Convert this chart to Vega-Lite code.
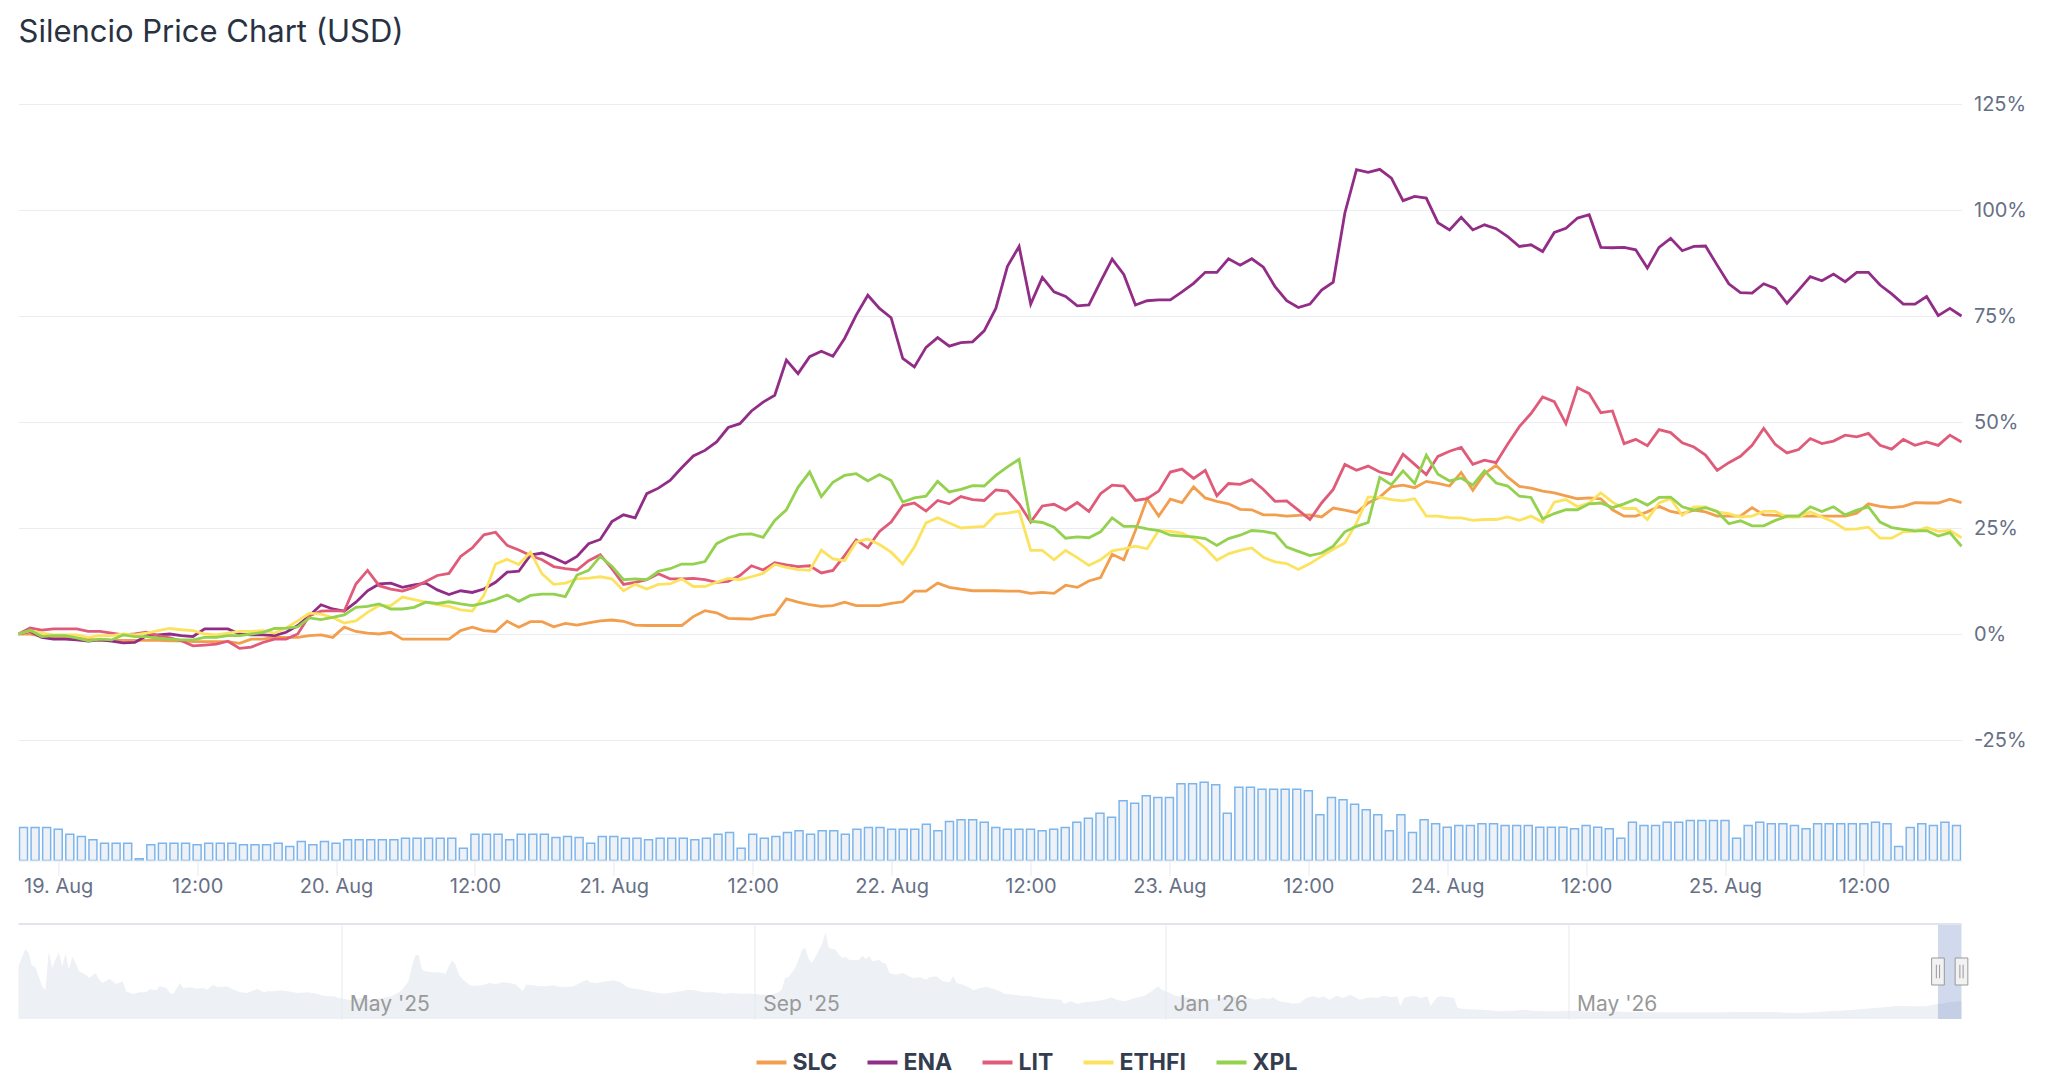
{
  "$schema": "https://vega.github.io/schema/vega-lite/v6.json",
  "background": "white",
  "padding": {"left": 12.5, "top": 16, "right": 0, "bottom": 0},
  "title": {"text": "Silencio Price Chart (USD)", "anchor": "start", "frame": "group", "font": "Inter", "fontSize": 31, "fontWeight": "normal", "color": "#283241", "offset": 45.5},
  "config": {"view": {"stroke": null}, "font": "Inter", "axis": {"labelFont": "Inter"}, "legend": {"labelFont": "Inter"}},
  "datasets": {
    "hourly": [
      {"t":"2026-08-18T21:00","SLC":0,"ENA":0,"LIT":0,"ETHFI":0,"XPL":0,"vol":33},
      {"t":"2026-08-18T22:00","SLC":0,"ENA":0.6,"LIT":1.4,"ETHFI":0.8,"XPL":0.9,"vol":33},
      {"t":"2026-08-18T23:00","SLC":-0.5,"ENA":-0.8,"LIT":0.9,"ETHFI":0.2,"XPL":-0.6,"vol":33},
      {"t":"2026-08-19T00:00","SLC":-1,"ENA":-1.2,"LIT":1.2,"ETHFI":-0.2,"XPL":-0.4,"vol":31.3},
      {"t":"2026-08-19T01:00","SLC":-1,"ENA":-1.2,"LIT":1.2,"ETHFI":-0.2,"XPL":-0.4,"vol":26.3},
      {"t":"2026-08-19T02:00","SLC":-1,"ENA":-1.4,"LIT":1.2,"ETHFI":-0.2,"XPL":-0.9,"vol":24},
      {"t":"2026-08-19T03:00","SLC":-1.2,"ENA":-1.7,"LIT":0.6,"ETHFI":-0.8,"XPL":-1.6,"vol":20.7},
      {"t":"2026-08-19T04:00","SLC":-1.5,"ENA":-1.4,"LIT":0.6,"ETHFI":-0.4,"XPL":-1.2,"vol":17.3},
      {"t":"2026-08-19T05:00","SLC":-1.5,"ENA":-1.7,"LIT":0.2,"ETHFI":-0.4,"XPL":-1.4,"vol":17.3},
      {"t":"2026-08-19T06:00","SLC":-1.5,"ENA":-2.1,"LIT":-0.2,"ETHFI":0,"XPL":-0.2,"vol":17.3},
      {"t":"2026-08-19T07:00","SLC":-1.5,"ENA":-2.0,"LIT":0,"ETHFI":-0.2,"XPL":-0.6,"vol":1.7},
      {"t":"2026-08-19T08:00","SLC":-1.5,"ENA":-0.4,"LIT":0.4,"ETHFI":0.2,"XPL":-0.6,"vol":15.7},
      {"t":"2026-08-19T09:00","SLC":-1.5,"ENA":-0.2,"LIT":-0.4,"ETHFI":0.8,"XPL":-1.0,"vol":17.3},
      {"t":"2026-08-19T10:00","SLC":-1.6,"ENA":0,"LIT":-0.9,"ETHFI":1.3,"XPL":-1.2,"vol":17.3},
      {"t":"2026-08-19T11:00","SLC":-1.6,"ENA":-0.4,"LIT":-1.6,"ETHFI":1.0,"XPL":-1.4,"vol":17.3},
      {"t":"2026-08-19T12:00","SLC":-1.8,"ENA":-0.6,"LIT":-2.8,"ETHFI":0.8,"XPL":-1.4,"vol":15.7},
      {"t":"2026-08-19T13:00","SLC":-1.8,"ENA":1.2,"LIT":-2.6,"ETHFI":0,"XPL":-0.8,"vol":17.3},
      {"t":"2026-08-19T14:00","SLC":-1.8,"ENA":1.2,"LIT":-2.4,"ETHFI":-0.2,"XPL":-0.8,"vol":17.3},
      {"t":"2026-08-19T15:00","SLC":-1.8,"ENA":1.2,"LIT":-1.7,"ETHFI":0.2,"XPL":-0.4,"vol":17.3},
      {"t":"2026-08-19T16:00","SLC":-2.2,"ENA":0,"LIT":-3.4,"ETHFI":0.6,"XPL":-0.4,"vol":15.7},
      {"t":"2026-08-19T17:00","SLC":-1.2,"ENA":-0.2,"LIT":-3.1,"ETHFI":0.6,"XPL":0,"vol":15.7},
      {"t":"2026-08-19T18:00","SLC":-1.2,"ENA":-0.2,"LIT":-2.0,"ETHFI":0.8,"XPL":0.4,"vol":15.7},
      {"t":"2026-08-19T19:00","SLC":-0.8,"ENA":-0.4,"LIT":-1.2,"ETHFI":0.2,"XPL":1.3,"vol":17.3},
      {"t":"2026-08-19T20:00","SLC":-0.8,"ENA":0.4,"LIT":-1.2,"ETHFI":1.4,"XPL":1.4,"vol":14},
      {"t":"2026-08-19T21:00","SLC":-0.8,"ENA":2.0,"LIT":0,"ETHFI":3.1,"XPL":1.7,"vol":19},
      {"t":"2026-08-19T22:00","SLC":-0.4,"ENA":4.3,"LIT":4.3,"ETHFI":4.9,"XPL":3.8,"vol":15.7},
      {"t":"2026-08-19T23:00","SLC":-0.2,"ENA":6.9,"LIT":5.4,"ETHFI":4.7,"XPL":3.4,"vol":19},
      {"t":"2026-08-20T00:00","SLC":-0.8,"ENA":5.9,"LIT":5.5,"ETHFI":3.9,"XPL":3.9,"vol":17.3},
      {"t":"2026-08-20T01:00","SLC":1.6,"ENA":5.4,"LIT":5.4,"ETHFI":2.6,"XPL":4.5,"vol":20.7},
      {"t":"2026-08-20T02:00","SLC":0.6,"ENA":7.5,"LIT":11.8,"ETHFI":3.1,"XPL":6.3,"vol":20.7},
      {"t":"2026-08-20T03:00","SLC":0.2,"ENA":10.2,"LIT":15,"ETHFI":5.1,"XPL":6.5,"vol":20.7},
      {"t":"2026-08-20T04:00","SLC":0,"ENA":11.8,"LIT":11.4,"ETHFI":6.7,"XPL":7.1,"vol":20.7},
      {"t":"2026-08-20T05:00","SLC":0.4,"ENA":12,"LIT":10.6,"ETHFI":6.7,"XPL":5.9,"vol":20.7},
      {"t":"2026-08-20T06:00","SLC":-1.2,"ENA":11,"LIT":10.1,"ETHFI":8.7,"XPL":5.9,"vol":22.3},
      {"t":"2026-08-20T07:00","SLC":-1.2,"ENA":11.6,"LIT":11,"ETHFI":8.1,"XPL":6.3,"vol":22.3},
      {"t":"2026-08-20T08:00","SLC":-1.2,"ENA":12,"LIT":12.4,"ETHFI":7.5,"XPL":7.5,"vol":22.3},
      {"t":"2026-08-20T09:00","SLC":-1.2,"ENA":10.4,"LIT":13.8,"ETHFI":6.9,"XPL":7.2,"vol":22.3},
      {"t":"2026-08-20T10:00","SLC":-1.2,"ENA":9.3,"LIT":14.3,"ETHFI":6.5,"XPL":7.6,"vol":22.3},
      {"t":"2026-08-20T11:00","SLC":0.8,"ENA":10.2,"LIT":18.3,"ETHFI":5.7,"XPL":7.1,"vol":12.3},
      {"t":"2026-08-20T12:00","SLC":1.6,"ENA":9.8,"LIT":20.3,"ETHFI":5.4,"XPL":6.7,"vol":26.3},
      {"t":"2026-08-20T13:00","SLC":0.8,"ENA":10.6,"LIT":23.4,"ETHFI":9.1,"XPL":7.3,"vol":26.3},
      {"t":"2026-08-20T14:00","SLC":0.6,"ENA":12.2,"LIT":24,"ETHFI":16.5,"XPL":8.1,"vol":26.3},
      {"t":"2026-08-20T15:00","SLC":3.0,"ENA":14.6,"LIT":20.9,"ETHFI":17.6,"XPL":9.2,"vol":20.7},
      {"t":"2026-08-20T16:00","SLC":1.6,"ENA":14.8,"LIT":19.8,"ETHFI":16.4,"XPL":7.7,"vol":26.3},
      {"t":"2026-08-20T17:00","SLC":2.9,"ENA":18.6,"LIT":18.5,"ETHFI":19.3,"XPL":9.1,"vol":26.3},
      {"t":"2026-08-20T18:00","SLC":2.9,"ENA":19.1,"LIT":17.5,"ETHFI":14.2,"XPL":9.4,"vol":26.3},
      {"t":"2026-08-20T19:00","SLC":1.7,"ENA":18.0,"LIT":15.9,"ETHFI":11.7,"XPL":9.4,"vol":23},
      {"t":"2026-08-20T20:00","SLC":2.5,"ENA":16.7,"LIT":15.4,"ETHFI":12.0,"XPL":8.8,"vol":24},
      {"t":"2026-08-20T21:00","SLC":2.1,"ENA":18.3,"LIT":15.1,"ETHFI":13.0,"XPL":13.9,"vol":23},
      {"t":"2026-08-20T22:00","SLC":2.6,"ENA":21.3,"LIT":17.3,"ETHFI":13.2,"XPL":15.0,"vol":17.3},
      {"t":"2026-08-20T23:00","SLC":3.1,"ENA":22.3,"LIT":18.7,"ETHFI":13.5,"XPL":18.3,"vol":24},
      {"t":"2026-08-21T00:00","SLC":3.3,"ENA":26.5,"LIT":15.4,"ETHFI":13.0,"XPL":16.0,"vol":24},
      {"t":"2026-08-21T01:00","SLC":3.0,"ENA":28.1,"LIT":11.7,"ETHFI":10.2,"XPL":12.8,"vol":22.3},
      {"t":"2026-08-21T02:00","SLC":2.1,"ENA":27.4,"LIT":12.2,"ETHFI":11.7,"XPL":13.0,"vol":22.3},
      {"t":"2026-08-21T03:00","SLC":2.0,"ENA":33.1,"LIT":12.8,"ETHFI":10.6,"XPL":12.8,"vol":20.7},
      {"t":"2026-08-21T04:00","SLC":2.0,"ENA":34.4,"LIT":14.2,"ETHFI":11.7,"XPL":14.8,"vol":22.3},
      {"t":"2026-08-21T05:00","SLC":2.0,"ENA":36.2,"LIT":13.0,"ETHFI":11.8,"XPL":15.4,"vol":22.3},
      {"t":"2026-08-21T06:00","SLC":2.0,"ENA":39.2,"LIT":13.0,"ETHFI":13.0,"XPL":16.5,"vol":22.3},
      {"t":"2026-08-21T07:00","SLC":4.1,"ENA":42.0,"LIT":13.1,"ETHFI":11.2,"XPL":16.5,"vol":20.7},
      {"t":"2026-08-21T08:00","SLC":5.5,"ENA":43.3,"LIT":12.8,"ETHFI":11.2,"XPL":17.1,"vol":22.3},
      {"t":"2026-08-21T09:00","SLC":5.0,"ENA":45.3,"LIT":12.2,"ETHFI":12.2,"XPL":21.3,"vol":26.3},
      {"t":"2026-08-21T10:00","SLC":3.7,"ENA":48.7,"LIT":12.4,"ETHFI":13.1,"XPL":22.7,"vol":28},
      {"t":"2026-08-21T11:00","SLC":3.6,"ENA":49.6,"LIT":13.8,"ETHFI":12.8,"XPL":23.5,"vol":12.3},
      {"t":"2026-08-21T12:00","SLC":3.5,"ENA":52.6,"LIT":16.1,"ETHFI":13.5,"XPL":23.6,"vol":26.3},
      {"t":"2026-08-21T13:00","SLC":4.2,"ENA":54.7,"LIT":15.1,"ETHFI":14.3,"XPL":22.8,"vol":22.3},
      {"t":"2026-08-21T14:00","SLC":4.6,"ENA":56.3,"LIT":16.8,"ETHFI":16.4,"XPL":26.8,"vol":24},
      {"t":"2026-08-21T15:00","SLC":8.3,"ENA":64.6,"LIT":16.3,"ETHFI":15.7,"XPL":29.3,"vol":28},
      {"t":"2026-08-21T16:00","SLC":7.5,"ENA":61.4,"LIT":15.9,"ETHFI":15.2,"XPL":34.6,"vol":29.7},
      {"t":"2026-08-21T17:00","SLC":6.9,"ENA":65.4,"LIT":16.1,"ETHFI":15.0,"XPL":38.2,"vol":26.3},
      {"t":"2026-08-21T18:00","SLC":6.5,"ENA":66.7,"LIT":14.4,"ETHFI":19.8,"XPL":32.4,"vol":29.7},
      {"t":"2026-08-21T19:00","SLC":6.7,"ENA":65.5,"LIT":15.0,"ETHFI":17.7,"XPL":35.8,"vol":29.7},
      {"t":"2026-08-21T20:00","SLC":7.5,"ENA":69.7,"LIT":18.5,"ETHFI":17.3,"XPL":37.4,"vol":26.3},
      {"t":"2026-08-21T21:00","SLC":6.7,"ENA":75.2,"LIT":22.2,"ETHFI":21.7,"XPL":37.8,"vol":31.3},
      {"t":"2026-08-21T22:00","SLC":6.7,"ENA":79.9,"LIT":20.3,"ETHFI":22.4,"XPL":36.1,"vol":33},
      {"t":"2026-08-21T23:00","SLC":6.7,"ENA":76.8,"LIT":24.2,"ETHFI":21.1,"XPL":37.6,"vol":33},
      {"t":"2026-08-22T00:00","SLC":7.2,"ENA":74.6,"LIT":26.4,"ETHFI":19.3,"XPL":36.2,"vol":31.3},
      {"t":"2026-08-22T01:00","SLC":7.6,"ENA":65.0,"LIT":30.3,"ETHFI":16.5,"XPL":31.1,"vol":31.3},
      {"t":"2026-08-22T02:00","SLC":10.1,"ENA":63.0,"LIT":30.9,"ETHFI":20.5,"XPL":32.1,"vol":31.3},
      {"t":"2026-08-22T03:00","SLC":10.1,"ENA":67.6,"LIT":29.0,"ETHFI":26.2,"XPL":32.5,"vol":36.3},
      {"t":"2026-08-22T04:00","SLC":12.0,"ENA":69.9,"LIT":31.5,"ETHFI":27.4,"XPL":36.0,"vol":29.7},
      {"t":"2026-08-22T05:00","SLC":11.0,"ENA":67.9,"LIT":30.7,"ETHFI":26.2,"XPL":33.5,"vol":39},
      {"t":"2026-08-22T06:00","SLC":10.6,"ENA":68.7,"LIT":32.4,"ETHFI":25.0,"XPL":34.1,"vol":40.7},
      {"t":"2026-08-22T07:00","SLC":10.2,"ENA":68.9,"LIT":31.7,"ETHFI":25.2,"XPL":35.0,"vol":40.7},
      {"t":"2026-08-22T08:00","SLC":10.2,"ENA":71.5,"LIT":31.5,"ETHFI":25.4,"XPL":34.9,"vol":38.3},
      {"t":"2026-08-22T09:00","SLC":10.2,"ENA":76.8,"LIT":34.0,"ETHFI":28.2,"XPL":37.4,"vol":33},
      {"t":"2026-08-22T10:00","SLC":10.1,"ENA":86.7,"LIT":33.7,"ETHFI":28.5,"XPL":39.4,"vol":31.3},
      {"t":"2026-08-22T11:00","SLC":10.1,"ENA":91.4,"LIT":30.7,"ETHFI":29.0,"XPL":41.2,"vol":31.3},
      {"t":"2026-08-22T12:00","SLC":9.6,"ENA":77.8,"LIT":26.4,"ETHFI":19.7,"XPL":26.6,"vol":31.3},
      {"t":"2026-08-22T13:00","SLC":9.8,"ENA":84.1,"LIT":30.2,"ETHFI":19.7,"XPL":26.3,"vol":29.7},
      {"t":"2026-08-22T14:00","SLC":9.6,"ENA":80.7,"LIT":30.6,"ETHFI":17.5,"XPL":25.2,"vol":31.3},
      {"t":"2026-08-22T15:00","SLC":11.5,"ENA":79.6,"LIT":29.2,"ETHFI":19.7,"XPL":22.6,"vol":33},
      {"t":"2026-08-22T16:00","SLC":11.0,"ENA":77.4,"LIT":31.0,"ETHFI":18.0,"XPL":22.9,"vol":38.3},
      {"t":"2026-08-22T17:00","SLC":12.5,"ENA":77.6,"LIT":28.9,"ETHFI":16.2,"XPL":22.7,"vol":42.3},
      {"t":"2026-08-22T18:00","SLC":13.3,"ENA":83.1,"LIT":33.1,"ETHFI":17.5,"XPL":24.1,"vol":47.3},
      {"t":"2026-08-22T19:00","SLC":18.8,"ENA":88.4,"LIT":35.1,"ETHFI":19.6,"XPL":27.4,"vol":43.3},
      {"t":"2026-08-22T20:00","SLC":17.5,"ENA":84.8,"LIT":34.9,"ETHFI":20.1,"XPL":25.4,"vol":59.7},
      {"t":"2026-08-22T21:00","SLC":24.4,"ENA":77.6,"LIT":31.5,"ETHFI":20.7,"XPL":25.4,"vol":57.3},
      {"t":"2026-08-22T22:00","SLC":31.9,"ENA":78.6,"LIT":31.9,"ETHFI":20.1,"XPL":24.8,"vol":64.7},
      {"t":"2026-08-22T23:00","SLC":27.8,"ENA":78.8,"LIT":33.7,"ETHFI":24.4,"XPL":24.4,"vol":63},
      {"t":"2026-08-23T00:00","SLC":31.8,"ENA":78.8,"LIT":38.2,"ETHFI":24.2,"XPL":23.3,"vol":63},
      {"t":"2026-08-23T01:00","SLC":31.0,"ENA":80.7,"LIT":38.9,"ETHFI":23.8,"XPL":23.1,"vol":76.7},
      {"t":"2026-08-23T02:00","SLC":34.7,"ENA":82.7,"LIT":36.7,"ETHFI":22.5,"XPL":22.9,"vol":76.7},
      {"t":"2026-08-23T03:00","SLC":32.1,"ENA":85.3,"LIT":38.6,"ETHFI":20.3,"XPL":22.5,"vol":78.3},
      {"t":"2026-08-23T04:00","SLC":31.3,"ENA":85.3,"LIT":32.6,"ETHFI":17.4,"XPL":20.9,"vol":75.7},
      {"t":"2026-08-23T05:00","SLC":30.7,"ENA":88.5,"LIT":35.5,"ETHFI":18.9,"XPL":22.5,"vol":47.3},
      {"t":"2026-08-23T06:00","SLC":29.4,"ENA":87.0,"LIT":35.3,"ETHFI":19.7,"XPL":23.3,"vol":73.3},
      {"t":"2026-08-23T07:00","SLC":29.3,"ENA":88.5,"LIT":36.4,"ETHFI":20.3,"XPL":24.4,"vol":73.3},
      {"t":"2026-08-23T08:00","SLC":28.1,"ENA":86.5,"LIT":34.1,"ETHFI":18.1,"XPL":24.2,"vol":71.3},
      {"t":"2026-08-23T09:00","SLC":28.1,"ENA":81.9,"LIT":31.3,"ETHFI":17.0,"XPL":23.7,"vol":71.3},
      {"t":"2026-08-23T10:00","SLC":27.8,"ENA":78.6,"LIT":31.4,"ETHFI":16.6,"XPL":20.5,"vol":71.3},
      {"t":"2026-08-23T11:00","SLC":28.0,"ENA":77.0,"LIT":29.2,"ETHFI":15.2,"XPL":19.5,"vol":71.3},
      {"t":"2026-08-23T12:00","SLC":28.1,"ENA":77.8,"LIT":27.0,"ETHFI":16.6,"XPL":18.5,"vol":69.7},
      {"t":"2026-08-23T13:00","SLC":27.6,"ENA":81.1,"LIT":30.9,"ETHFI":18.3,"XPL":19.1,"vol":45.7},
      {"t":"2026-08-23T14:00","SLC":29.7,"ENA":83.0,"LIT":34.1,"ETHFI":20.0,"XPL":20.7,"vol":63},
      {"t":"2026-08-23T15:00","SLC":29.2,"ENA":99.3,"LIT":40.0,"ETHFI":21.5,"XPL":24.1,"vol":60.7},
      {"t":"2026-08-23T16:00","SLC":28.6,"ENA":109.5,"LIT":38.6,"ETHFI":26.2,"XPL":25.4,"vol":56.3},
      {"t":"2026-08-23T17:00","SLC":30.9,"ENA":108.9,"LIT":39.6,"ETHFI":32.3,"XPL":26.3,"vol":50.7},
      {"t":"2026-08-23T18:00","SLC":32.3,"ENA":109.6,"LIT":38.2,"ETHFI":32.3,"XPL":36.9,"vol":45.7},
      {"t":"2026-08-23T19:00","SLC":34.7,"ENA":107.5,"LIT":37.6,"ETHFI":31.7,"XPL":35.2,"vol":29.7},
      {"t":"2026-08-23T20:00","SLC":35.1,"ENA":102.2,"LIT":42.4,"ETHFI":31.4,"XPL":38.5,"vol":45.7},
      {"t":"2026-08-23T21:00","SLC":34.5,"ENA":103.2,"LIT":40.0,"ETHFI":31.9,"XPL":35.5,"vol":28},
      {"t":"2026-08-23T22:00","SLC":36.0,"ENA":102.8,"LIT":37.6,"ETHFI":27.8,"XPL":42.2,"vol":40.7},
      {"t":"2026-08-23T23:00","SLC":35.5,"ENA":97.0,"LIT":41.9,"ETHFI":27.8,"XPL":37.7,"vol":36.7},
      {"t":"2026-08-24T00:00","SLC":34.9,"ENA":95.3,"LIT":43.1,"ETHFI":27.4,"XPL":36.1,"vol":33.3},
      {"t":"2026-08-24T01:00","SLC":38.1,"ENA":98.3,"LIT":44.0,"ETHFI":27.4,"XPL":36.8,"vol":35},
      {"t":"2026-08-24T02:00","SLC":33.9,"ENA":95.3,"LIT":40.0,"ETHFI":26.8,"XPL":35.1,"vol":35},
      {"t":"2026-08-24T03:00","SLC":37.8,"ENA":96.5,"LIT":41.0,"ETHFI":27.0,"XPL":38.5,"vol":36.7},
      {"t":"2026-08-24T04:00","SLC":39.8,"ENA":95.6,"LIT":40.4,"ETHFI":27.0,"XPL":35.6,"vol":36.7},
      {"t":"2026-08-24T05:00","SLC":37.0,"ENA":93.7,"LIT":44.8,"ETHFI":27.6,"XPL":34.9,"vol":35},
      {"t":"2026-08-24T06:00","SLC":34.8,"ENA":91.4,"LIT":48.9,"ETHFI":26.8,"XPL":32.5,"vol":35},
      {"t":"2026-08-24T07:00","SLC":34.4,"ENA":91.8,"LIT":52.0,"ETHFI":27.8,"XPL":32.2,"vol":35},
      {"t":"2026-08-24T08:00","SLC":33.7,"ENA":90.2,"LIT":55.9,"ETHFI":26.4,"XPL":27.2,"vol":33.3},
      {"t":"2026-08-24T09:00","SLC":33.3,"ENA":94.7,"LIT":54.8,"ETHFI":31.1,"XPL":28.4,"vol":33.3},
      {"t":"2026-08-24T10:00","SLC":32.6,"ENA":95.7,"LIT":49.6,"ETHFI":31.7,"XPL":29.3,"vol":33.3},
      {"t":"2026-08-24T11:00","SLC":31.9,"ENA":98.1,"LIT":58.1,"ETHFI":30.0,"XPL":29.3,"vol":31.7},
      {"t":"2026-08-24T12:00","SLC":32.1,"ENA":98.9,"LIT":56.7,"ETHFI":30.9,"XPL":30.7,"vol":35},
      {"t":"2026-08-24T13:00","SLC":31.9,"ENA":91.2,"LIT":52.2,"ETHFI":33.3,"XPL":30.9,"vol":33.3},
      {"t":"2026-08-24T14:00","SLC":29.3,"ENA":91.1,"LIT":52.6,"ETHFI":31.1,"XPL":29.8,"vol":31.7},
      {"t":"2026-08-24T15:00","SLC":27.8,"ENA":91.2,"LIT":44.9,"ETHFI":29.6,"XPL":30.7,"vol":22.3},
      {"t":"2026-08-24T16:00","SLC":27.8,"ENA":90.6,"LIT":45.9,"ETHFI":29.6,"XPL":31.8,"vol":38.3},
      {"t":"2026-08-24T17:00","SLC":28.8,"ENA":86.3,"LIT":44.4,"ETHFI":27.0,"XPL":30.4,"vol":35},
      {"t":"2026-08-24T18:00","SLC":30.1,"ENA":91.2,"LIT":48.2,"ETHFI":30.9,"XPL":32.2,"vol":35},
      {"t":"2026-08-24T19:00","SLC":28.9,"ENA":93.3,"LIT":47.5,"ETHFI":31.9,"XPL":32.3,"vol":38.3},
      {"t":"2026-08-24T20:00","SLC":28.4,"ENA":90.4,"LIT":45.1,"ETHFI":28.0,"XPL":30.0,"vol":38.3},
      {"t":"2026-08-24T21:00","SLC":29.2,"ENA":91.4,"LIT":44.1,"ETHFI":30.0,"XPL":29.2,"vol":40},
      {"t":"2026-08-24T22:00","SLC":28.8,"ENA":91.5,"LIT":42.2,"ETHFI":30.0,"XPL":29.8,"vol":40},
      {"t":"2026-08-24T23:00","SLC":27.8,"ENA":87.0,"LIT":38.6,"ETHFI":28.8,"XPL":28.9,"vol":40},
      {"t":"2026-08-25T00:00","SLC":27.8,"ENA":82.6,"LIT":40.4,"ETHFI":28.4,"XPL":26.0,"vol":40},
      {"t":"2026-08-25T01:00","SLC":27.8,"ENA":80.5,"LIT":41.9,"ETHFI":27.6,"XPL":26.7,"vol":22.3},
      {"t":"2026-08-25T02:00","SLC":29.8,"ENA":80.4,"LIT":44.5,"ETHFI":27.8,"XPL":25.5,"vol":35},
      {"t":"2026-08-25T03:00","SLC":28.1,"ENA":82.6,"LIT":48.5,"ETHFI":28.9,"XPL":25.5,"vol":38.3},
      {"t":"2026-08-25T04:00","SLC":28.0,"ENA":81.5,"LIT":44.7,"ETHFI":28.9,"XPL":26.8,"vol":36.7},
      {"t":"2026-08-25T05:00","SLC":27.8,"ENA":78.0,"LIT":42.7,"ETHFI":27.6,"XPL":27.8,"vol":36.7},
      {"t":"2026-08-25T06:00","SLC":27.8,"ENA":81.1,"LIT":43.5,"ETHFI":27.6,"XPL":27.8,"vol":35},
      {"t":"2026-08-25T07:00","SLC":27.8,"ENA":84.3,"LIT":46.1,"ETHFI":28.8,"XPL":30.0,"vol":31.7},
      {"t":"2026-08-25T08:00","SLC":27.8,"ENA":83.3,"LIT":44.9,"ETHFI":27.6,"XPL":28.9,"vol":36.7},
      {"t":"2026-08-25T09:00","SLC":27.8,"ENA":84.9,"LIT":45.5,"ETHFI":26.4,"XPL":30.0,"vol":36.7},
      {"t":"2026-08-25T10:00","SLC":27.8,"ENA":83.1,"LIT":46.9,"ETHFI":24.7,"XPL":28.1,"vol":36.7},
      {"t":"2026-08-25T11:00","SLC":28.5,"ENA":85.3,"LIT":46.5,"ETHFI":24.8,"XPL":29.2,"vol":36.7},
      {"t":"2026-08-25T12:00","SLC":30.7,"ENA":85.3,"LIT":47.3,"ETHFI":25.2,"XPL":30.0,"vol":36.7},
      {"t":"2026-08-25T13:00","SLC":30.1,"ENA":82.3,"LIT":44.5,"ETHFI":22.6,"XPL":26.4,"vol":38.3},
      {"t":"2026-08-25T14:00","SLC":29.8,"ENA":80.2,"LIT":43.6,"ETHFI":22.6,"XPL":25.1,"vol":36.7},
      {"t":"2026-08-25T15:00","SLC":30.1,"ENA":77.8,"LIT":45.9,"ETHFI":24.1,"XPL":24.7,"vol":14},
      {"t":"2026-08-25T16:00","SLC":31.0,"ENA":77.8,"LIT":44.5,"ETHFI":24.2,"XPL":24.3,"vol":33},
      {"t":"2026-08-25T17:00","SLC":30.9,"ENA":79.6,"LIT":45.3,"ETHFI":25.1,"XPL":24.4,"vol":36.7},
      {"t":"2026-08-25T18:00","SLC":30.9,"ENA":75.1,"LIT":44.5,"ETHFI":24.2,"XPL":23.1,"vol":35},
      {"t":"2026-08-25T19:00","SLC":31.8,"ENA":76.8,"LIT":46.9,"ETHFI":24.4,"XPL":23.9,"vol":38.3},
      {"t":"2026-08-25T20:00","SLC":31.0,"ENA":75.0,"LIT":45.3,"ETHFI":22.7,"XPL":20.7,"vol":35}
    ],
    "nav": [
      {"d":"2025/01/25","v":158},{"d":"2025/01/27","v":210},{"d":"2025/01/28","v":198},{"d":"2025/01/29","v":160},
      {"d":"2025/01/30","v":156},{"d":"2025/01/31","v":128},{"d":"2025/02/01","v":98},{"d":"2025/02/02","v":86},
      {"d":"2025/02/03","v":203},{"d":"2025/02/04","v":153},{"d":"2025/02/05","v":178},{"d":"2025/02/06","v":200},
      {"d":"2025/02/07","v":158},{"d":"2025/02/08","v":196},{"d":"2025/02/09","v":150},{"d":"2025/02/10","v":186},
      {"d":"2025/02/11","v":168},{"d":"2025/02/12","v":143},{"d":"2025/02/14","v":133},{"d":"2025/02/15","v":123},
      {"d":"2025/02/17","v":138},{"d":"2025/02/18","v":118},{"d":"2025/02/19","v":108},{"d":"2025/02/21","v":120},
      {"d":"2025/02/22","v":113},{"d":"2025/02/23","v":105},{"d":"2025/02/25","v":113},{"d":"2025/02/26","v":83},
      {"d":"2025/02/28","v":75},{"d":"2025/03/02","v":80},{"d":"2025/03/04","v":80},{"d":"2025/03/05","v":90},
      {"d":"2025/03/07","v":86},{"d":"2025/03/08","v":98},{"d":"2025/03/10","v":93},{"d":"2025/03/11","v":78},
      {"d":"2025/03/12","v":74},{"d":"2025/03/14","v":108},{"d":"2025/03/15","v":93},{"d":"2025/03/17","v":95},
      {"d":"2025/03/19","v":91},{"d":"2025/03/21","v":93},{"d":"2025/03/22","v":88},{"d":"2025/03/24","v":103},
      {"d":"2025/03/25","v":95},{"d":"2025/03/26","v":96},{"d":"2025/03/28","v":98},{"d":"2025/03/30","v":88},
      {"d":"2025/04/01","v":80},{"d":"2025/04/03","v":78},{"d":"2025/04/05","v":86},{"d":"2025/04/06","v":90},
      {"d":"2025/04/08","v":80},{"d":"2025/04/09","v":83},{"d":"2025/04/11","v":83},{"d":"2025/04/13","v":86},
      {"d":"2025/04/15","v":83},{"d":"2025/04/18","v":78},{"d":"2025/04/21","v":80},{"d":"2025/04/24","v":75},
      {"d":"2025/04/25","v":71},{"d":"2025/04/27","v":68},{"d":"2025/04/29","v":68},{"d":"2025/04/30","v":63},
      {"d":"2025/05/02","v":60},{"d":"2025/05/04","v":56},{"d":"2025/05/07","v":63},{"d":"2025/05/10","v":58},
      {"d":"2025/05/13","v":63},{"d":"2025/05/16","v":68},{"d":"2025/05/19","v":86},{"d":"2025/05/21","v":113},
      {"d":"2025/05/22","v":158},{"d":"2025/05/23","v":190},{"d":"2025/05/24","v":193},{"d":"2025/05/25","v":148},
      {"d":"2025/05/26","v":143},{"d":"2025/05/28","v":140},{"d":"2025/05/30","v":140},{"d":"2025/06/01","v":136},
      {"d":"2025/06/02","v":158},{"d":"2025/06/03","v":176},{"d":"2025/06/04","v":163},{"d":"2025/06/05","v":133},
      {"d":"2025/06/06","v":120},{"d":"2025/06/08","v":103},{"d":"2025/06/09","v":100},{"d":"2025/06/12","v":101},
      {"d":"2025/06/14","v":108},{"d":"2025/06/16","v":105},{"d":"2025/06/18","v":110},{"d":"2025/06/20","v":108},
      {"d":"2025/06/22","v":103},{"d":"2025/06/24","v":83},{"d":"2025/06/25","v":103},{"d":"2025/06/27","v":101},
      {"d":"2025/06/29","v":98},{"d":"2025/07/01","v":98},{"d":"2025/07/03","v":101},{"d":"2025/07/05","v":96},
      {"d":"2025/07/07","v":96},{"d":"2025/07/09","v":98},{"d":"2025/07/11","v":108},{"d":"2025/07/13","v":118},
      {"d":"2025/07/14","v":110},{"d":"2025/07/16","v":108},{"d":"2025/07/19","v":113},{"d":"2025/07/21","v":116},
      {"d":"2025/07/23","v":110},{"d":"2025/07/25","v":96},{"d":"2025/07/26","v":93},{"d":"2025/07/28","v":90},
      {"d":"2025/07/30","v":86},{"d":"2025/08/02","v":80},{"d":"2025/08/05","v":76},{"d":"2025/08/08","v":80},
      {"d":"2025/08/10","v":83},{"d":"2025/08/12","v":88},{"d":"2025/08/14","v":86},{"d":"2025/08/17","v":80},
      {"d":"2025/08/20","v":80},{"d":"2025/08/23","v":76},{"d":"2025/08/25","v":78},{"d":"2025/08/28","v":76},
      {"d":"2025/08/31","v":76},{"d":"2025/09/03","v":73},{"d":"2025/09/06","v":73},{"d":"2025/09/08","v":80},
      {"d":"2025/09/09","v":88},{"d":"2025/09/10","v":123},{"d":"2025/09/11","v":125},{"d":"2025/09/13","v":153},
      {"d":"2025/09/14","v":178},{"d":"2025/09/15","v":206},{"d":"2025/09/16","v":213},{"d":"2025/09/17","v":180},
      {"d":"2025/09/18","v":168},{"d":"2025/09/19","v":186},{"d":"2025/09/21","v":225},{"d":"2025/09/22","v":260},
      {"d":"2025/09/23","v":213},{"d":"2025/09/25","v":208},{"d":"2025/09/26","v":193},{"d":"2025/09/27","v":183},
      {"d":"2025/09/28","v":186},{"d":"2025/09/29","v":178},{"d":"2025/10/01","v":176},{"d":"2025/10/02","v":178},
      {"d":"2025/10/03","v":190},{"d":"2025/10/04","v":180},{"d":"2025/10/05","v":188},{"d":"2025/10/06","v":173},
      {"d":"2025/10/08","v":178},{"d":"2025/10/09","v":168},{"d":"2025/10/10","v":166},{"d":"2025/10/11","v":138},
      {"d":"2025/10/13","v":133},{"d":"2025/10/15","v":138},{"d":"2025/10/16","v":133},{"d":"2025/10/18","v":123},
      {"d":"2025/10/20","v":125},{"d":"2025/10/22","v":118},{"d":"2025/10/23","v":125},{"d":"2025/10/25","v":128},
      {"d":"2025/10/26","v":120},{"d":"2025/10/27","v":113},{"d":"2025/10/29","v":110},{"d":"2025/10/30","v":130},
      {"d":"2025/10/31","v":108},{"d":"2025/11/02","v":103},{"d":"2025/11/04","v":93},{"d":"2025/11/05","v":86},
      {"d":"2025/11/07","v":93},{"d":"2025/11/09","v":96},{"d":"2025/11/10","v":93},{"d":"2025/11/13","v":83},
      {"d":"2025/11/14","v":76},{"d":"2025/11/17","v":73},{"d":"2025/11/19","v":70},{"d":"2025/11/22","v":68},
      {"d":"2025/11/25","v":63},{"d":"2025/11/28","v":60},{"d":"2025/12/01","v":58},{"d":"2025/12/02","v":46},
      {"d":"2025/12/04","v":53},{"d":"2025/12/06","v":46},{"d":"2025/12/08","v":50},{"d":"2025/12/11","v":53},
      {"d":"2025/12/14","v":58},{"d":"2025/12/16","v":65},{"d":"2025/12/18","v":56},{"d":"2025/12/20","v":53},
      {"d":"2025/12/23","v":63},{"d":"2025/12/26","v":70},{"d":"2025/12/28","v":83},{"d":"2025/12/30","v":98},
      {"d":"2025/12/31","v":88},{"d":"2026/01/02","v":80},{"d":"2026/01/04","v":70},{"d":"2026/01/07","v":65},
      {"d":"2026/01/10","v":60},{"d":"2026/01/13","v":58},{"d":"2026/01/16","v":60},{"d":"2026/01/18","v":63},
      {"d":"2026/01/20","v":68},{"d":"2026/01/22","v":66},{"d":"2026/01/24","v":60},{"d":"2026/01/26","v":63},
      {"d":"2026/01/28","v":58},{"d":"2026/01/30","v":63},{"d":"2026/02/01","v":60},{"d":"2026/02/02","v":66},
      {"d":"2026/02/04","v":53},{"d":"2026/02/06","v":50},{"d":"2026/02/08","v":46},{"d":"2026/02/10","v":48},
      {"d":"2026/02/12","v":63},{"d":"2026/02/14","v":68},{"d":"2026/02/16","v":63},{"d":"2026/02/17","v":68},
      {"d":"2026/02/19","v":58},{"d":"2026/02/21","v":70},{"d":"2026/02/23","v":63},{"d":"2026/02/25","v":73},
      {"d":"2026/02/28","v":58},{"d":"2026/03/02","v":63},{"d":"2026/03/04","v":65},{"d":"2026/03/05","v":63},
      {"d":"2026/03/07","v":70},{"d":"2026/03/09","v":66},{"d":"2026/03/11","v":68},{"d":"2026/03/12","v":38},
      {"d":"2026/03/13","v":63},{"d":"2026/03/15","v":68},{"d":"2026/03/16","v":70},{"d":"2026/03/18","v":63},
      {"d":"2026/03/20","v":68},{"d":"2026/03/21","v":40},{"d":"2026/03/23","v":66},{"d":"2026/03/24","v":68},
      {"d":"2026/03/26","v":66},{"d":"2026/03/28","v":63},{"d":"2026/03/29","v":33},{"d":"2026/03/31","v":30},
      {"d":"2026/04/05","v":28},{"d":"2026/04/11","v":23},{"d":"2026/04/15","v":25},{"d":"2026/04/18","v":28},
      {"d":"2026/04/20","v":25},{"d":"2026/04/24","v":23},{"d":"2026/04/28","v":23},{"d":"2026/05/01","v":25},
      {"d":"2026/05/05","v":23},{"d":"2026/05/09","v":21},{"d":"2026/05/15","v":23},{"d":"2026/05/20","v":20},
      {"d":"2026/05/28","v":20},{"d":"2026/06/04","v":20},{"d":"2026/06/14","v":20},{"d":"2026/06/23","v":21},
      {"d":"2026/07/01","v":21},{"d":"2026/07/08","v":18},{"d":"2026/07/14","v":21},{"d":"2026/07/20","v":25},
      {"d":"2026/07/25","v":28},{"d":"2026/07/31","v":33},{"d":"2026/08/04","v":36},{"d":"2026/08/07","v":40},
      {"d":"2026/08/11","v":38},{"d":"2026/08/15","v":38},{"d":"2026/08/19","v":46},{"d":"2026/08/20","v":46},
      {"d":"2026/08/22","v":50},{"d":"2026/08/25","v":53},{"d":"2026/08/25 21:00","v":53}
    ],
    "mask": [{"start": "2026-08-18T21:00", "end": "2026-08-25T21:00"}]
  },
  "spacing": 26,
  "vconcat": [
    {
      "width": 1943,
      "height": 636,
      "data": {"name": "hourly"},
      "transform": [{"fold": ["SLC", "ENA", "LIT", "ETHFI", "XPL"], "as": ["series", "pct"]}],
      "mark": {"type": "line", "strokeWidth": 2.8, "interpolate": "linear"},
      "encoding": {
        "x": {
          "field": "t", "type": "temporal",
          "scale": {"domain": [{"year": 2026, "month": 8, "date": 18, "hours": 21}, {"year": 2026, "month": 8, "date": 25, "hours": 20}], "nice": false},
          "axis": null
        },
        "y": {
          "field": "pct", "type": "quantitative",
          "scale": {"domain": [-25, 125], "nice": false, "zero": false},
          "axis": {
            "orient": "right", "values": [-25, 0, 25, 50, 75, 100, 125],
            "labelExpr": "datum.value + '%'", "ticks": false, "domain": false,
            "grid": true, "gridColor": "#e9ecf1", "labelFontSize": 20,
            "labelColor": "#667085", "labelPadding": 12, "title": null
          }
        },
        "color": {
          "field": "series", "type": "nominal",
          "scale": {"domain": ["SLC", "ENA", "LIT", "ETHFI", "XPL"], "range": ["#f29e4c", "#922d87", "#e05a7a", "#fce35f", "#93d14e"]},
          "legend": {
            "orient": "none", "legendX": 736, "legendY": 941.5, "direction": "horizontal",
            "title": null, "symbolType": "stroke", "symbolSize": 900, "symbolStrokeWidth": 4,
            "labelFontSize": 23, "labelFontWeight": "bold", "labelColor": "#333d4f",
            "labelOffset": 4, "columnPadding": 22
          }
        }
      }
    },
    {
      "width": 1943,
      "height": 84.5,
      "data": {"name": "hourly"},
      "mark": {"type": "bar", "size": 8, "fill": "#eef2f7", "stroke": "#7cb5ec", "strokeWidth": 1.5, "clip": true},
      "encoding": {
        "x": {
          "field": "t", "type": "temporal",
          "scale": {"domain": [{"year": 2026, "month": 8, "date": 18, "hours": 21}, {"year": 2026, "month": 8, "date": 25, "hours": 20}], "nice": false},
          "axis": {
            "values": [
              {"year": 2026, "month": 8, "date": 19, "hours": 0}, {"year": 2026, "month": 8, "date": 19, "hours": 12},
              {"year": 2026, "month": 8, "date": 20, "hours": 0}, {"year": 2026, "month": 8, "date": 20, "hours": 12},
              {"year": 2026, "month": 8, "date": 21, "hours": 0}, {"year": 2026, "month": 8, "date": 21, "hours": 12},
              {"year": 2026, "month": 8, "date": 22, "hours": 0}, {"year": 2026, "month": 8, "date": 22, "hours": 12},
              {"year": 2026, "month": 8, "date": 23, "hours": 0}, {"year": 2026, "month": 8, "date": 23, "hours": 12},
              {"year": 2026, "month": 8, "date": 24, "hours": 0}, {"year": 2026, "month": 8, "date": 24, "hours": 12},
              {"year": 2026, "month": 8, "date": 25, "hours": 0}, {"year": 2026, "month": 8, "date": 25, "hours": 12}
            ],
            "labelExpr": "hours(datum.value) == 0 ? timeFormat(datum.value, '%-d. %b') : timeFormat(datum.value, '%H:%M')",
            "tickSize": 15, "tickColor": "#e6e9ef", "domainColor": "#e6e9ef",
            "labelFontSize": 20, "labelColor": "#667085", "labelPadding": 1,
            "grid": false, "title": null, "labelFlush": false, "labelOverlap": false
          }
        },
        "y": {"field": "vol", "type": "quantitative", "scale": {"domain": [0, 84.5], "nice": false}, "axis": null}
      }
    },
    {
      "width": 1943,
      "height": 95,
      "layer": [
        {
          "data": {"name": "nav"},
          "mark": {"type": "area", "color": "#edf0f4", "opacity": 1},
          "encoding": {
            "x": {
              "field": "d", "type": "temporal",
              "scale": {"domain": [{"year": 2025, "month": 1, "date": 25}, {"year": 2026, "month": 8, "date": 25, "hours": 21}], "nice": false},
              "axis": {
                "values": [{"year": 2025, "month": 5, "date": 1}, {"year": 2025, "month": 9, "date": 1}, {"year": 2026, "month": 1, "date": 1}, {"year": 2026, "month": 5, "date": 1}],
                "format": "%b '%y", "grid": true, "gridColor": "#e6e9ef", "ticks": false, "domain": false,
                "labelAlign": "left", "labelBaseline": "bottom", "labelPadding": -5, "labelOffset": 8,
                "labelFontSize": 21, "labelColor": "#999999", "title": null, "labelFlush": false, "zindex": 1
              }
            },
            "y": {"field": "v", "type": "quantitative", "scale": {"domain": [0, 285], "nice": false}, "axis": null}
          }
        },
        {
          "data": {"name": "mask"},
          "mark": {"type": "rect", "fill": "#6685c2", "opacity": 0.3},
          "encoding": {
            "x": {"field": "start", "type": "temporal"},
            "x2": {"field": "end"}
          }
        },
        {
          "data": {"values": [{}]},
          "mark": {"type": "rule", "color": "#e1e5eb", "strokeWidth": 2},
          "encoding": {"y": {"datum": 285}}
        },
        {
          "data": {"name": "mask"},
          "transform": [{"fold": ["start", "end"], "as": ["edge", "when"]}],
          "mark": {"type": "point", "shape": "M-0.47,-1H0.47V1H-0.47Z M-0.12,-0.5V0.5 M0.12,-0.5V0.5", "size": 729, "filled": false, "fill": "#f2f2f2", "fillOpacity": 1, "stroke": "#999999", "strokeWidth": 1, "opacity": 1},
          "encoding": {
            "x": {"field": "when", "type": "temporal"},
            "y": {"datum": 142.5}
          }
        }
      ]
    }
  ]
}
